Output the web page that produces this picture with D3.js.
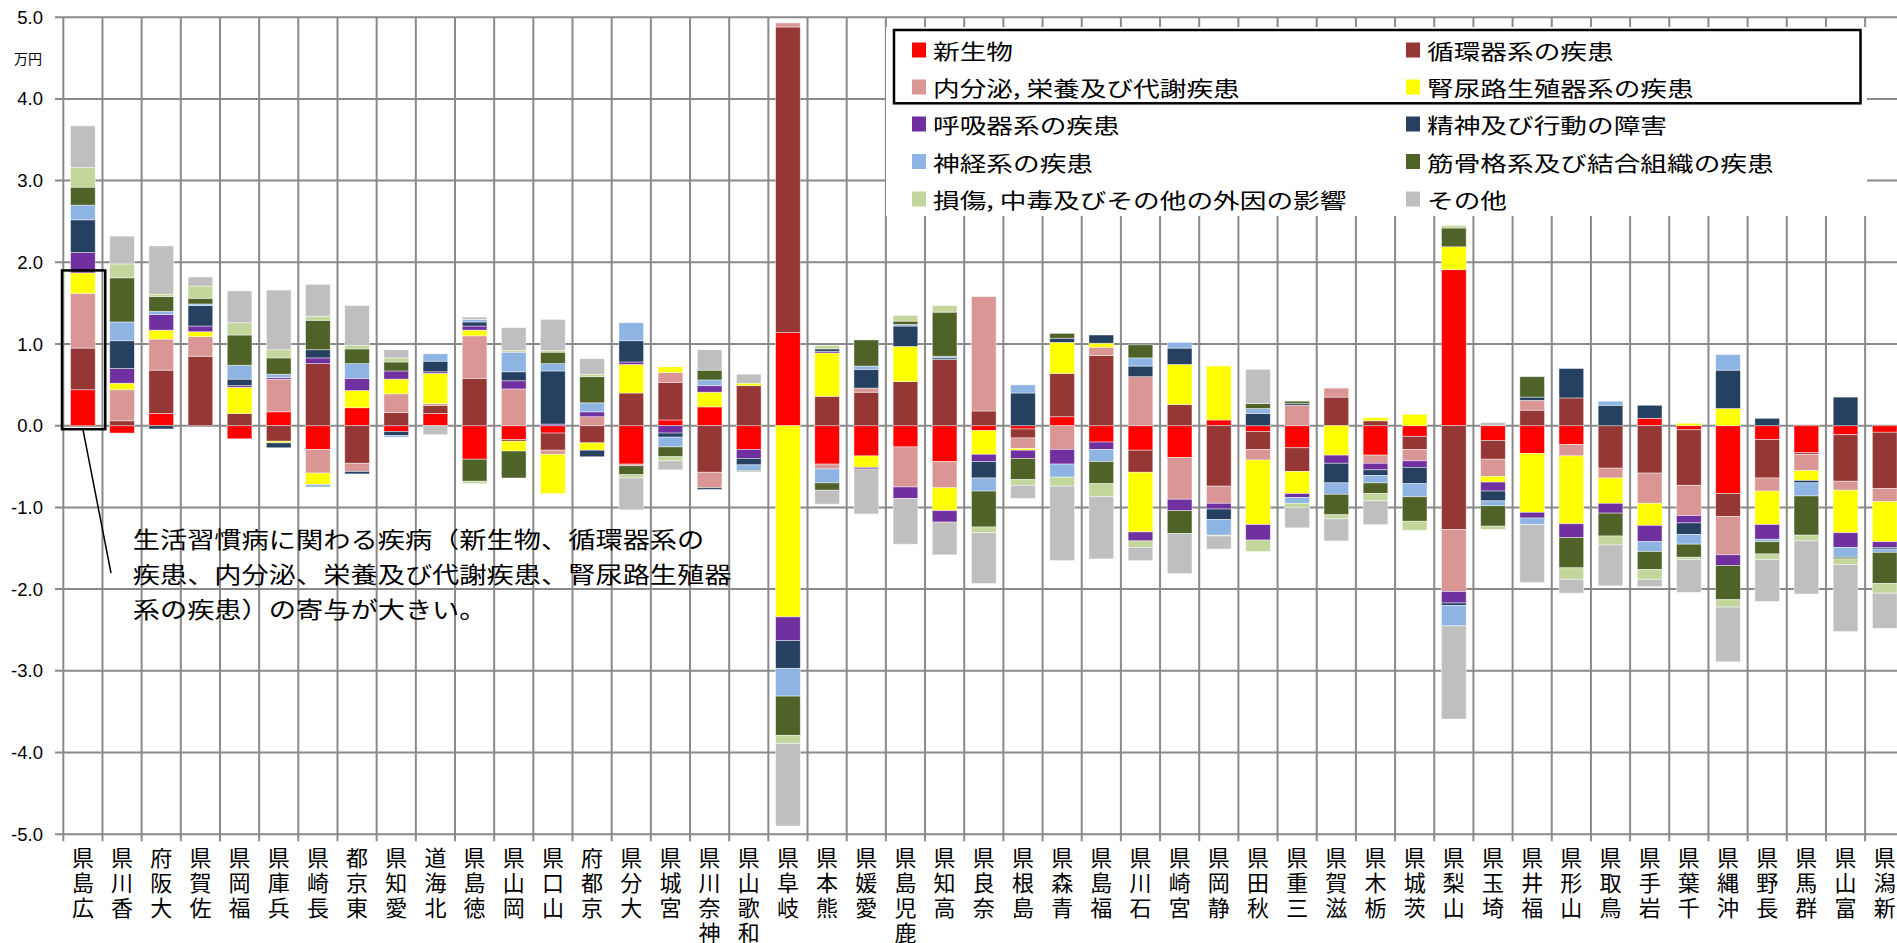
<!DOCTYPE html>
<html><head><meta charset="utf-8">
<script src="https://cdn.jsdelivr.net/npm/d3@7"></script>
<style>
body{margin:0;background:#fff;overflow:hidden}
svg{display:block}
</style>
</head><body>
<svg id="chart" width="1897" height="943"></svg>
<script>
const prefectures = ["広島県","香川県","大阪府","佐賀県","福岡県","兵庫県","長崎県","東京都","愛知県","北海道","徳島県","岡山県","山口県","京都府","大分県","宮城県","神奈川県","和歌山県","岐阜県","熊本県","愛媛県","鹿児島県","高知県","奈良県","島根県","青森県","福島県","石川県","宮崎県","静岡県","秋田県","三重県","滋賀県","栃木県","茨城県","山梨県","埼玉県","福井県","山形県","鳥取県","岩手県","千葉県","沖縄県","長野県","群馬県","富山県","新潟県"];

const seriesNames = ["新生物","循環器系の疾患","内分泌, 栄養及び代謝疾患","腎尿路生殖器系の疾患","呼吸器系の疾患","精神及び行動の障害","神経系の疾患","筋骨格系及び結合組織の疾患","損傷, 中毒及びその他の外因の影響","その他"];
const seriesColors = ["#ff0000","#953735","#d99694","#ffff00","#7030a0","#254061","#8db4e2","#4f6228","#c3d69b","#bfbfbf"];

const neoplasms   = [0.44,-0.09,0.15,0,-0.16,0.17,-0.29,0.22,-0.07,0.15,-0.41,-0.17,-0.09,0,-0.47,0.07,0.23,-0.29,1.14,-0.47,-0.37,-0.26,-0.44,-0.06,-0.04,0.11,-0.20,-0.30,-0.39,0.07,-0.07,-0.27,0,-0.36,-0.13,1.91,-0.18,-0.34,-0.23,0,0.09,-0.05,-0.83,-0.17,-0.33,-0.11,-0.08];
const circulatory = [0.51,0.06,0.53,0.85,0.15,-0.19,0.76,-0.46,0.16,0.10,0.58,-0.02,-0.21,-0.21,0.40,0.46,-0.57,0.49,3.74,0.36,0.41,0.54,0.81,0.18,-0.11,0.53,0.86,-0.27,0.26,-0.74,-0.22,-0.29,0.35,0.06,-0.16,-1.27,-0.23,0.19,0.34,-0.52,-0.58,-0.68,-0.28,-0.47,-0.02,-0.57,-0.69];
const endocrine   = [0.67,0.38,0.38,0.24,0,0.40,-0.29,-0.10,0.23,0.02,0.52,0.45,-0.05,0.11,-0.02,0.12,-0.19,0,0.05,-0.06,0.05,-0.49,-0.32,1.40,-0.13,-0.29,0.10,0.60,-0.51,-0.21,-0.13,0.25,0.11,-0.10,-0.14,-0.76,-0.21,0.12,-0.14,-0.12,-0.37,-0.37,-0.47,-0.16,-0.20,-0.11,-0.16];
const genitourinary = [0.25,0.08,0.11,0.06,0.32,-0.02,-0.14,0.21,0.18,0.37,0.07,-0.12,-0.48,-0.09,0.35,0.07,0.18,0.03,-2.34,0.53,-0.14,0.43,-0.28,-0.29,-0.02,0.38,0.05,-0.73,0.49,0.66,-0.79,-0.27,-0.36,0.04,0.14,0.28,-0.07,-0.72,-0.83,-0.31,-0.27,0.03,0.21,-0.41,-0.12,-0.52,-0.49];
const respiratory = [0.25,0.18,0.19,0.07,0.02,0.02,0.07,0.15,0.10,0.02,0.05,0.10,0.02,0.06,0.03,-0.09,0.08,-0.11,-0.29,0.02,-0.02,-0.14,-0.14,-0.09,-0.10,-0.18,-0.09,-0.11,-0.14,-0.07,-0.19,-0.05,-0.10,-0.08,-0.08,-0.14,-0.11,-0.07,-0.17,-0.12,-0.20,-0.09,-0.13,-0.18,0,-0.18,-0.07];
const mental      = [0.40,0.34,-0.04,0.25,0.08,-0.06,0.10,-0.03,-0.05,0.13,0.05,0.11,0.65,-0.08,0.26,-0.05,-0.02,-0.08,-0.34,0.03,0.23,0.25,0.02,-0.20,0.40,0.05,0.10,0.13,0.20,-0.13,0.15,0.02,-0.24,-0.07,-0.20,-0.03,-0.12,0.04,0.36,0.25,0.16,-0.14,0.47,0.09,-0.03,0.35,-0.02];
const nervous     = [0.18,0.23,0.04,0.02,0.17,0.04,-0.03,0.18,-0.02,0.09,0.03,0.24,0.09,0.11,0.22,-0.12,0.07,-0.07,-0.34,-0.17,0.04,0.02,0.02,-0.16,0.10,-0.16,-0.15,0.10,0.07,-0.19,0.06,-0.07,-0.14,-0.09,-0.16,-0.25,-0.06,-0.08,0,0.05,-0.12,-0.12,0.19,-0.03,-0.16,-0.12,-0.04];
const musculoskeletal = [0.22,0.54,0.18,0.07,0.37,0.20,0.36,0.18,0.11,0,-0.27,-0.33,0.14,0.32,-0.11,-0.12,0.12,-0.01,-0.48,-0.09,0.32,0.04,0.54,-0.44,-0.26,0.06,-0.27,0.16,-0.28,0,0.06,0.03,-0.25,-0.13,-0.30,0.23,-0.25,0.25,-0.37,-0.28,-0.22,-0.16,-0.42,-0.15,-0.48,-0.02,-0.38];
const injury      = [0.24,0.17,0.03,0.15,0.15,0.10,0.05,0.04,0.05,0,-0.03,0.02,0.02,0.03,-0.04,-0.05,0,0,-0.10,0.04,0,0.07,0.08,-0.07,-0.07,-0.11,-0.16,-0.08,0,-0.01,-0.14,-0.05,-0.05,-0.09,-0.11,0.03,-0.04,0,-0.14,-0.11,-0.12,-0.03,-0.09,-0.07,-0.07,-0.07,-0.12];
const others      = [0.51,0.34,0.59,0.11,0.39,0.73,0.39,0.49,0.10,-0.11,0.03,0.28,0.38,0.19,-0.39,-0.11,0.25,0.11,-1.01,-0.17,-0.55,-0.56,-0.40,-0.62,-0.16,-0.91,-0.76,-0.16,-0.49,-0.16,0.42,-0.25,-0.27,-0.29,0,-1.14,0.04,-0.71,-0.17,-0.50,-0.09,-0.40,-0.67,-0.51,-0.65,-0.82,-0.43];

const yTicks = [5,4,3,2,1,0,-1,-2,-3,-4,-5];
const unitLabel = "万円";
const noteLines = ["生活習慣病に関わる疾病（新生物、循環器系の","疾患、内分泌、栄養及び代謝疾患、腎尿路生殖器","系の疾患）の寄与が大きい。"];

const seriesValues = [neoplasms,circulatory,endocrine,genitourinary,respiratory,mental,nervous,musculoskeletal,injury,others];
const rows = prefectures.map((p,i)=>{
  const o={pref:p};
  seriesNames.forEach((s,k)=>o[s]=seriesValues[k][i]);
  return o;
});

const svg = d3.select("#chart");
const plotLeft = 63.3, step = 39.17;
const x = d3.scaleBand().domain(prefectures)
  .range([plotLeft, plotLeft + step*prefectures.length])
  .paddingInner(0.37).paddingOuter(0.185);
const y = d3.scaleLinear().domain([-5,5]).range([834.2,17.2]);

const gridColor = "#8a8a8a";
svg.append("g").selectAll("line").data(yTicks).join("line")
  .attr("x1",55).attr("x2",1897)
  .attr("y1",d=>y(d)).attr("y2",d=>y(d))
  .attr("stroke",gridColor).attr("stroke-width",2);
svg.append("g").selectAll("line").data(d3.range(prefectures.length+1)).join("line")
  .attr("x1",i=>plotLeft+i*x.step()).attr("x2",i=>plotLeft+i*x.step())
  .attr("y1",y(5)).attr("y2",y(-5)+7)
  .attr("stroke",gridColor).attr("stroke-width",2);

const stack = d3.stack().keys(seriesNames).offset(d3.stackOffsetDiverging);
const stacked = stack(rows);
svg.append("g").selectAll("g").data(stacked).join("g")
  .attr("fill",(d,i)=>seriesColors[i])
  .selectAll("rect").data(d=>d).join("rect")
  .attr("x",d=>x(d.data.pref))
  .attr("width",x.bandwidth())
  .attr("y",d=>y(Math.max(d[0],d[1])))
  .attr("height",d=>Math.abs(y(d[0])-y(d[1])))
  .attr("stroke","#ffffff").attr("stroke-width",0.8).attr("stroke-opacity",0.55);

svg.append("g").selectAll("text").data(yTicks).join("text")
  .attr("x",43).attr("y",d=>y(d))
  .attr("text-anchor","end").attr("dominant-baseline","central")
  .style("font-family","'Liberation Sans',Arial,sans-serif").style("font-size","18.5px")
  .attr("fill","#000")
  .text(d=>d.toFixed(1));

svg.append("text").attr("x",14).attr("y",58).attr("dominant-baseline","central")
  .style("font-family","'Noto Sans CJK JP',sans-serif").style("font-size","14px")
  .text(unitLabel);

// x labels: upright characters stacked, last character at the top
const xl = svg.append("g").selectAll("text").data(prefectures).join("text")
  .style("font-family","'Noto Sans CJK JP',sans-serif").style("font-size","22px")
  .attr("text-anchor","middle").attr("fill","#000");
xl.each(function(d){
  const chars = Array.from(d).reverse();
  const cx = x(d)+x.bandwidth()/2;
  d3.select(this).selectAll("tspan").data(chars).join("tspan")
    .attr("x",cx).attr("y",(c,i)=>866+25*i).text(c=>c);
});

// legend
const lg = svg.append("g");
lg.append("rect").attr("x",886).attr("y",27).attr("width",981).attr("height",189).attr("fill","#fff");
const colX=[912,1406], rowY=[50,87,124,161.5,199];
seriesNames.forEach((s,k)=>{
  const cx=colX[k%2], cy=rowY[Math.floor(k/2)];
  lg.append("rect").attr("x",cx).attr("y",cy-7.5).attr("width",14).attr("height",15).attr("fill",seriesColors[k]);
  lg.append("text").attr("transform",`translate(${cx+21},${cy}) scale(1.27,1)`)
    .attr("dominant-baseline","central")
    .style("font-family","'Noto Sans CJK JP',sans-serif").style("font-size","21px")
    .attr("fill","#000").text(s);
});
lg.append("rect").attr("x",894).attr("y",30).attr("width",966.5).attr("height",73.3)
  .attr("fill","none").attr("stroke","#000").attr("stroke-width",2.5);

// annotation
const firstPref = prefectures[0];
const lifestyleTop = [neoplasms,circulatory,endocrine,genitourinary].reduce((a,s)=>a+Math.max(0,s[0]),0);
const bx0 = plotLeft - 1.3, bx1 = plotLeft + x.step() + 2.8;
svg.append("rect").attr("x",bx0).attr("y",y(lifestyleTop)-2.5)
  .attr("width",bx1-bx0).attr("height",y(0)+3.5-(y(lifestyleTop)-2.5))
  .attr("fill","none").attr("stroke","#000").attr("stroke-width",2.5);
svg.append("line").attr("x1",x(firstPref)+x.bandwidth()/2).attr("y1",y(0)+3.5)
  .attr("x2",111).attr("y2",573).attr("stroke","#000").attr("stroke-width",1.5);
const noteY=[538,573,608];
noteLines.forEach((t,i)=>{
  svg.append("text").attr("transform",`translate(132.7,${noteY[i]}) scale(1.21,1)`)
    .attr("dominant-baseline","central")
    .style("font-family","'Noto Sans CJK JP',sans-serif").style("font-size","22.5px")
    .attr("fill","#000").text(t);
});
</script>
</body></html>
